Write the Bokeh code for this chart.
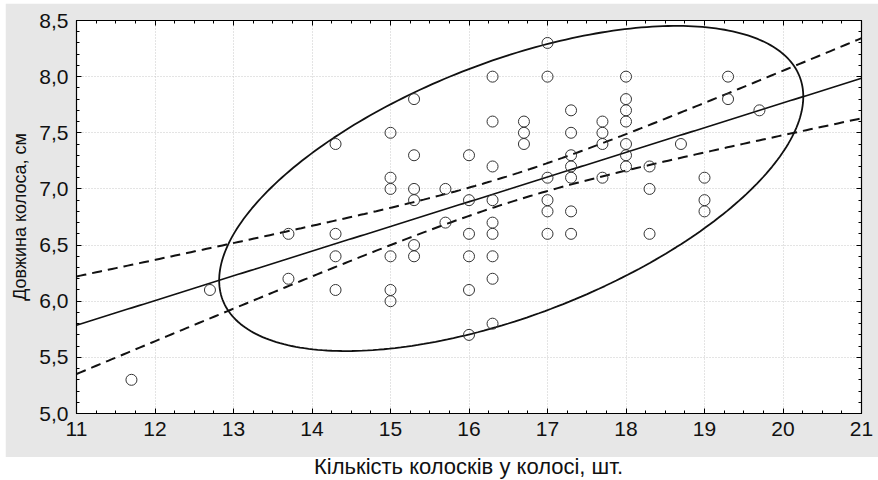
import numpy as np
from bokeh.plotting import figure
from bokeh.models import (LinearAxis, SingleIntervalTicker, CustomJSTickFormatter,
                          Range1d, Div)
from bokeh.layouts import column
from bokeh.embed import file_html
from bokeh.resources import INLINE

# ---- data ----
spikelets = [11.7, 12.7, 13.7, 13.7,
             14.3, 14.3, 14.3, 14.3,
             15.0, 15.0, 15.0, 15.0, 15.0, 15.0,
             15.3, 15.3, 15.3, 15.3, 15.3, 15.3,
             15.7, 15.7,
             16.0, 16.0, 16.0, 16.0, 16.0, 16.0,
             16.3, 16.3, 16.3, 16.3, 16.3, 16.3, 16.3, 16.3, 16.3,
             16.7, 16.7, 16.7,
             17.0, 17.0, 17.0, 17.0, 17.0, 17.0,
             17.3, 17.3, 17.3, 17.3, 17.3, 17.3, 17.3,
             17.7, 17.7, 17.7, 17.7,
             18.0, 18.0, 18.0, 18.0, 18.0, 18.0, 18.0,
             18.3, 18.3, 18.3,
             18.7,
             19.0, 19.0, 19.0,
             19.3, 19.3,
             19.7]
ear_length = [5.3, 6.1, 6.6, 6.2,
              7.4, 6.6, 6.4, 6.1,
              7.5, 7.1, 7.0, 6.4, 6.1, 6.0,
              7.8, 7.3, 7.0, 6.9, 6.5, 6.4,
              7.0, 6.7,
              7.3, 6.9, 6.6, 6.4, 6.1, 5.7,
              8.0, 7.6, 7.2, 6.9, 6.7, 6.6, 6.4, 6.2, 5.8,
              7.6, 7.5, 7.4,
              8.3, 8.0, 7.1, 6.9, 6.8, 6.6,
              7.7, 7.5, 7.3, 7.2, 7.1, 6.8, 6.6,
              7.6, 7.5, 7.4, 7.1,
              8.0, 7.8, 7.7, 7.6, 7.4, 7.3, 7.2,
              7.2, 7.0, 6.6,
              7.4,
              7.1, 6.9, 6.8,
              8.0, 7.8,
              7.7]

x_ticks = [11, 12, 13, 14, 15, 16, 17, 18, 19, 20, 21]
y_ticks = [5.0, 5.5, 6.0, 6.5, 7.0, 7.5, 8.0, 8.5]
x_title = "Кількість колосків у колосі, шт."
y_title = "Довжина колоса, см"

X_MIN, X_MAX = 11, 21
Y_MIN, Y_MAX = 5.0, 8.5

# ---- statistics ----
x = np.array(spikelets)
y = np.array(ear_length)
n = len(x)
xm, ym = x.mean(), y.mean()
sxx = ((x - xm) ** 2).sum()
sxy = ((x - xm) * (y - ym)).sum()
b = sxy / sxx
a = ym - b * xm
resid = y - (a + b * x)
s = np.sqrt((resid ** 2).sum() / (n - 2))
t_crit = 1.9935  # t(0.975, df=72)

xg = np.linspace(X_MIN, X_MAX, 200)
yg = a + b * xg
half = t_crit * s * np.sqrt(1.0 / n + (xg - xm) ** 2 / sxx)

cov = np.cov(x, y)
vals, vecs = np.linalg.eigh(cov)
k = 2.34  # ellipse size coefficient
tt = np.linspace(0, 2 * np.pi, 300)
circ = np.vstack([np.cos(tt), np.sin(tt)])
ell = vecs @ (np.sqrt(vals)[:, None] * circ) * k
ex = ell[0] + xm
ey = ell[1] + ym

# ---- figure ----
FONT = "Liberation Sans"
GRAY = "#e7e7e7"

p = figure(width=873, height=454, output_backend="svg", toolbar_location=None,
           x_range=Range1d(X_MIN, X_MAX), y_range=Range1d(Y_MIN, Y_MAX),
           x_axis_location=None, y_axis_location=None,
           min_border_left=71, min_border_right=17, min_border_top=17,
           min_border_bottom=44, margin=(3, 0, 0, 5))
p.border_fill_color = GRAY
p.background_fill_color = "white"
p.outline_line_color = "black"
p.outline_line_width = 1.2

fmt = CustomJSTickFormatter(code="return tick.toFixed(1).replace('.', ',');")
blank = CustomJSTickFormatter(code="return '';")


def make_axis(labels, ticker_interval, minor, formatter=None, title=None):
    ax = LinearAxis(ticker=SingleIntervalTicker(interval=ticker_interval, num_minor_ticks=minor))
    ax.major_tick_in = 5
    ax.major_tick_out = 0
    ax.minor_tick_in = 3
    ax.minor_tick_out = 0
    ax.axis_line_color = "black"
    ax.major_tick_line_color = "black"
    ax.minor_tick_line_color = "black"
    if labels:
        ax.major_label_text_font = FONT
        ax.major_label_text_font_size = "21px"
        ax.major_label_text_color = "#111111"
        ax.major_label_standoff = 8
        if formatter is not None:
            ax.formatter = formatter
        if title:
            ax.axis_label = title
            ax.axis_label_text_font = FONT
            ax.axis_label_text_font_size = "18px"
            ax.axis_label_text_font_style = "normal"
            ax.axis_label_text_color = "#111111"
            ax.axis_label_standoff = 6
    else:
        ax.formatter = blank
        ax.major_label_standoff = 0
    return ax


p.add_layout(make_axis(True, 1, 4), "below")
p.add_layout(make_axis(True, 0.5, 5, fmt, y_title), "left")
p.add_layout(make_axis(False, 1, 4), "above")
p.add_layout(make_axis(False, 0.5, 5), "right")

p.xgrid.ticker = SingleIntervalTicker(interval=1)
p.ygrid.ticker = SingleIntervalTicker(interval=0.5)
for g in (p.xgrid, p.ygrid):
    g.grid_line_color = "#c8c8c8"
    g.grid_line_dash = "1 2"
    g.grid_line_width = 1

p.line(xg, yg + half, line_color="#111111", line_width=2, line_dash="10 6")
p.line(xg, yg - half, line_color="#111111", line_width=2, line_dash="10 6")
p.line(xg, yg, line_color="#111111", line_width=1.6)
p.line(ex, ey, line_color="#111111", line_width=1.8)
p.scatter(x, y, marker="circle", size=11, fill_color=None,
          line_color="#333333", line_width=1)

label = Div(text=x_title, width=785, height=22, margin=(0, 0, 0, 76),
            styles={"font-family": FONT, "font-size": "22px", "color": "#111111",
                    "text-align": "center", "line-height": "20px"})

layout = column(p, label)

with open("out.html", "w") as f:
    f.write(file_html(layout, INLINE))
